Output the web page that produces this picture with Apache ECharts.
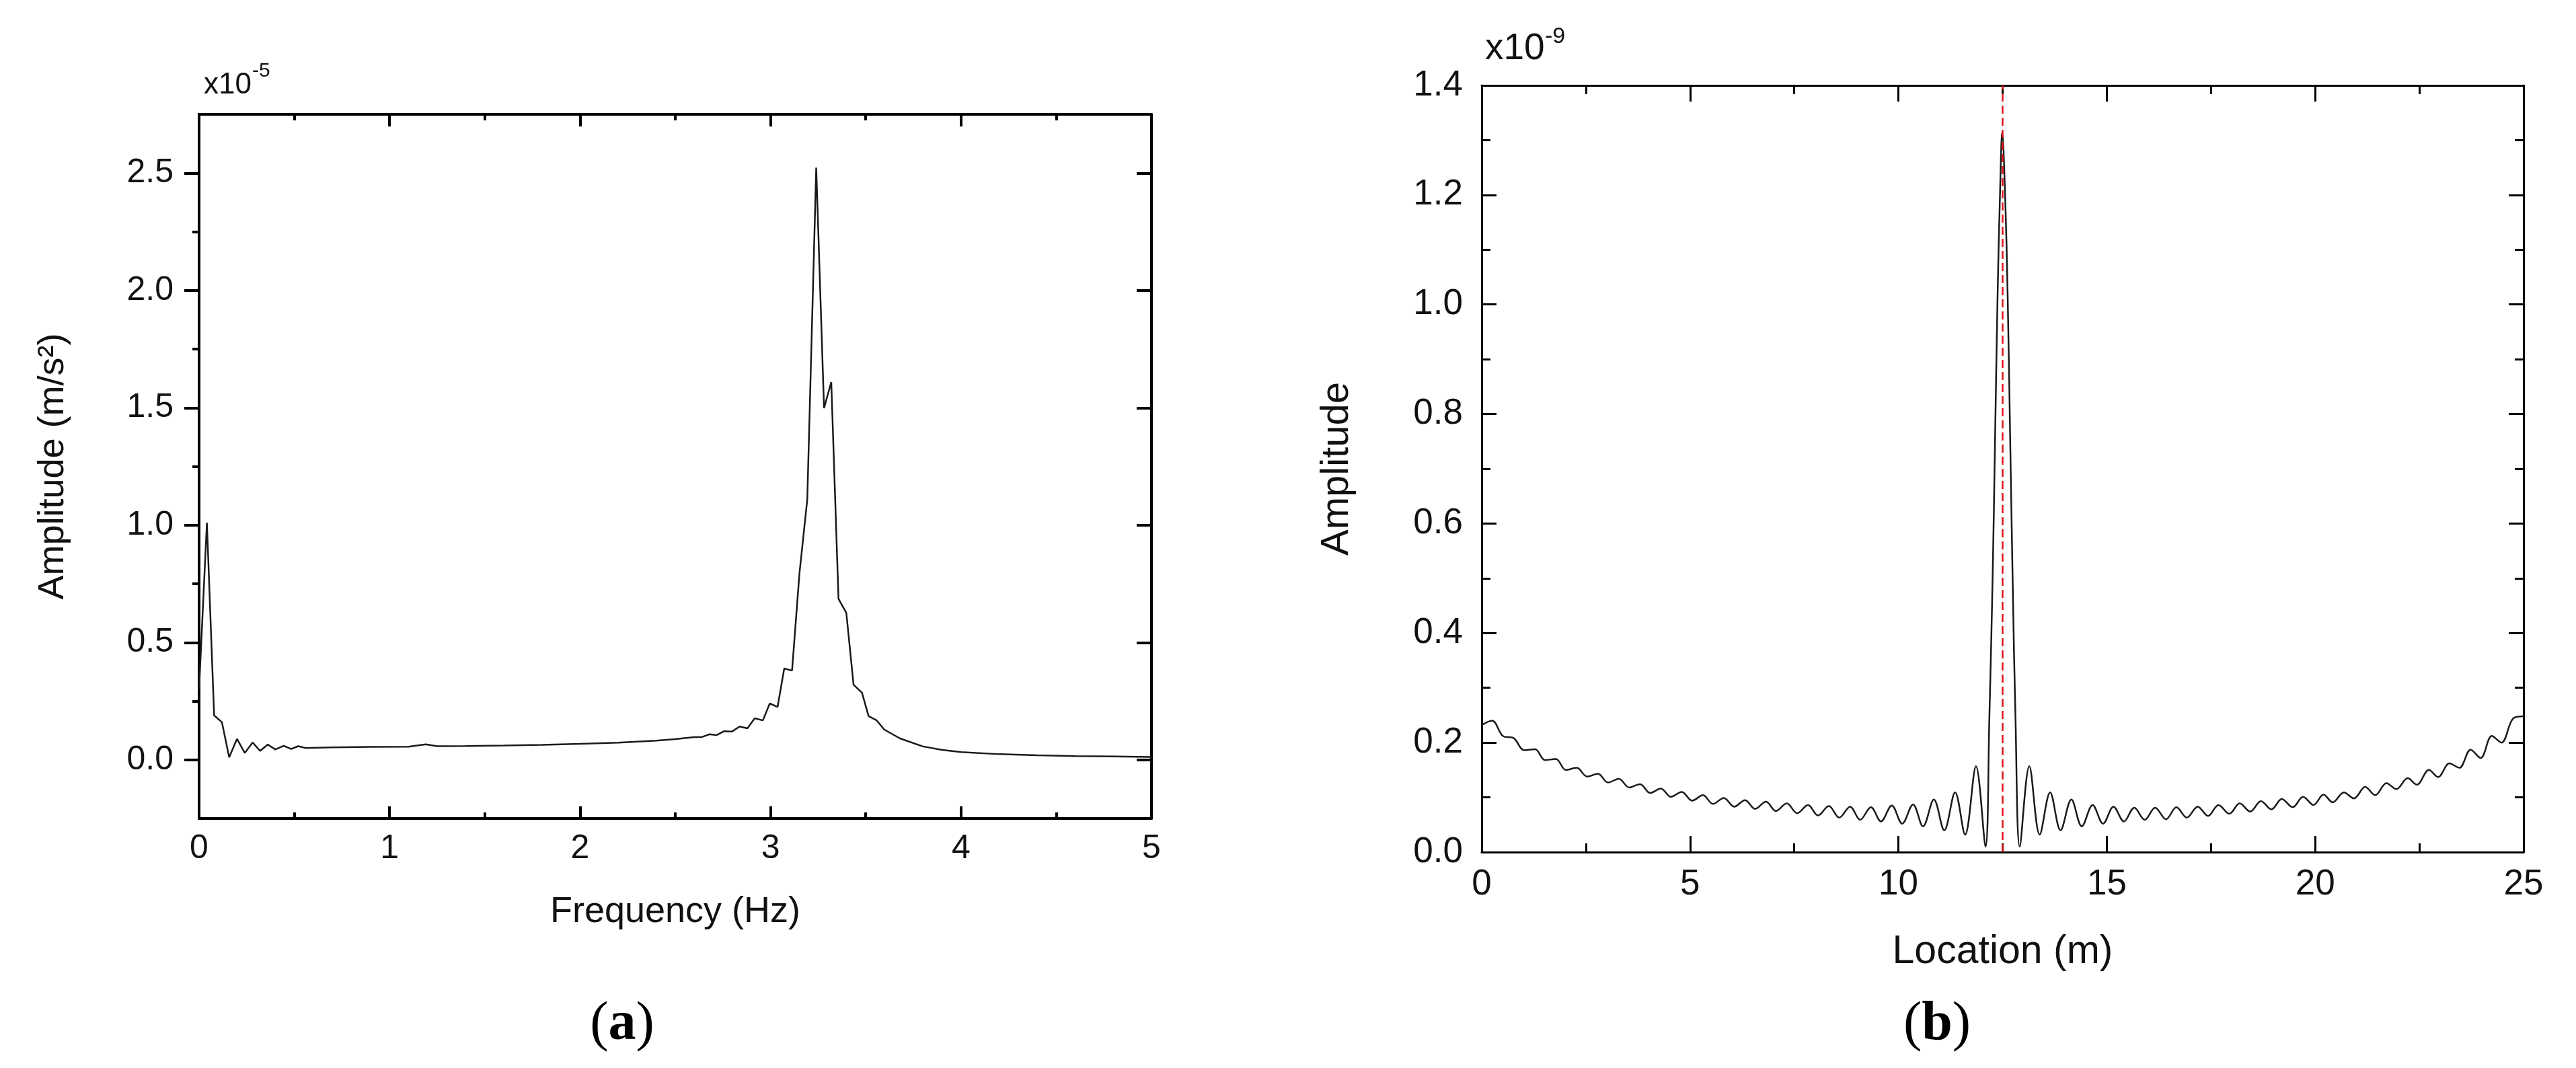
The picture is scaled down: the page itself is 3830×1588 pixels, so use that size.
<!DOCTYPE html>
<html>
<head>
<meta charset="utf-8">
<script src="https://cdn.jsdelivr.net/npm/echarts@6/dist/echarts.min.js"></script>
<style>
  html, body { margin: 0; padding: 0; background: #fff; }
  #chart { width: 3830px; height: 1588px; }
</style>
</head>
<body>
<div id="chart"></div>
<script>
// (a) spectrum, amplitude in units of 1e-5 m/s^2
const freqA = [0, 0.041, 0.079, 0.12, 0.158, 0.199, 0.24, 0.281, 0.32, 0.361, 0.40, 0.444, 0.483, 0.52, 0.56,
  0.7, 0.9, 1.1, 1.19, 1.25, 1.4, 1.6, 1.8, 2.0, 2.2, 2.4, 2.5, 2.6, 2.64, 2.68, 2.716, 2.757, 2.797, 2.838,
  2.879, 2.917, 2.96, 2.996, 3.037, 3.072, 3.113, 3.152, 3.193, 3.24, 3.281, 3.319, 3.357, 3.398, 3.436,
  3.48, 3.515, 3.556, 3.597, 3.68, 3.8, 3.9, 4.0, 4.2, 4.4, 4.6, 4.8, 5.0];
const ampA = [0.3, 1.01, 0.189, 0.16, 0.011, 0.089, 0.029, 0.074, 0.038, 0.065, 0.044, 0.06, 0.046, 0.058, 0.05,
  0.053, 0.055, 0.056, 0.066, 0.058, 0.059, 0.061, 0.064, 0.068, 0.073, 0.082, 0.088, 0.097, 0.097, 0.109, 0.105,
  0.122, 0.12, 0.142, 0.134, 0.177, 0.168, 0.24, 0.225, 0.389, 0.38, 0.795, 1.109, 2.523, 1.498, 1.609, 0.686,
  0.626, 0.32, 0.286, 0.186, 0.169, 0.129, 0.091, 0.057, 0.042, 0.033, 0.024, 0.019, 0.016, 0.014, 0.012];

// (b) location scan, amplitude in units of 1e-9
const locB = [0, 0.25, 0.51, 0.77, 1.02, 1.28, 1.52, 1.78, 2.02, 2.28, 2.53, 2.79, 3.03, 3.29, 3.54, 3.80,
  4.04, 4.30, 4.54, 4.80, 5.05, 5.31, 5.55, 5.81, 6.06, 6.32, 6.56, 6.82, 7.06, 7.32, 7.57, 7.83, 8.07, 8.33,
  8.58, 8.84, 9.08, 9.34, 9.58, 9.84, 10.09, 10.35, 10.59, 10.85, 11.10, 11.36, 11.60, 11.86, 12.09, 12.18,
  12.26, 12.32, 12.38, 12.44, 12.49, 12.56, 12.62, 12.68, 12.74, 12.81, 12.91, 13.14, 13.39, 13.64, 13.89,
  14.15, 14.40, 14.66, 14.91, 15.16, 15.41, 15.66, 15.91, 16.16, 16.42, 16.67, 16.92, 17.18, 17.43, 17.68,
  17.94, 18.19, 18.44, 18.70, 18.95, 19.20, 19.46, 19.71, 19.96, 20.20, 20.42, 20.69, 20.93, 21.20, 21.44,
  21.71, 21.95, 22.22, 22.44, 22.73, 22.95, 23.22, 23.46, 23.73, 23.97, 24.24, 24.47, 24.75, 25.0];
const ampB = [0.232, 0.240, 0.212, 0.208, 0.186, 0.188, 0.168, 0.170, 0.150, 0.154, 0.138, 0.143, 0.127, 0.134,
  0.118, 0.124, 0.108, 0.116, 0.101, 0.110, 0.094, 0.104, 0.088, 0.099, 0.083, 0.095, 0.079, 0.092, 0.075, 0.089,
  0.071, 0.086, 0.067, 0.084, 0.063, 0.083, 0.059, 0.082, 0.056, 0.085, 0.052, 0.087, 0.047, 0.096, 0.040, 0.109,
  0.032, 0.157, 0.010, 0.24, 0.50, 0.76, 1.02, 1.21, 1.315, 1.20, 1.02, 0.76, 0.50, 0.24, 0.010, 0.157, 0.032,
  0.109, 0.040, 0.096, 0.047, 0.086, 0.052, 0.083, 0.056, 0.081, 0.059, 0.081, 0.060, 0.082, 0.063, 0.083, 0.066,
  0.086, 0.070, 0.089, 0.074, 0.093, 0.078, 0.097, 0.082, 0.101, 0.086, 0.105, 0.091, 0.109, 0.098, 0.119, 0.104,
  0.126, 0.115, 0.135, 0.123, 0.150, 0.137, 0.162, 0.154, 0.187, 0.172, 0.212, 0.200, 0.244, 0.248];
const targetLoc = 12.5;

// (a) y axis runs -0.25..2.75, ticks only on the 0.5 grid
const yTicksA = [0, 0.5, 1.0, 1.5, 2.0, 2.5];
const yMinorA = [0.25, 0.75, 1.25, 1.75, 2.25];

const FONT = '"Liberation Sans", Arial, sans-serif';
const chart = echarts.init(document.getElementById('chart'));

function frameAxis(extra, w) {
  return Object.assign({
    type: 'value',
    splitLine: { show: false },
    axisLine: { show: true, onZero: false, lineStyle: { color: '#000', width: w } },
    axisLabel: { show: false },
    axisTick: { show: true, inside: true, lineStyle: { color: '#000', width: w } }
  }, extra);
}

const labelA = { color: '#111', fontFamily: FONT, fontSize: 50 };
const labelB = { color: '#111', fontFamily: FONT, fontSize: 53 };

const option = {
  animation: false,
  backgroundColor: '#fff',
  grid: [
    { left: 296, top: 170, width: 1416, height: 1047 },
    { left: 2203, top: 127, width: 1549, height: 1140 }
  ],
  xAxis: [
    frameAxis({
      gridIndex: 0, position: 'bottom', min: 0, max: 5, interval: 1,
      axisTick: { show: true, inside: true, length: 18, lineStyle: { color: '#000', width: 4 } },
      minorTick: { show: true, splitNumber: 2, length: 9, lineStyle: { color: '#000', width: 4 } },
      axisLabel: Object.assign({ show: true, margin: 20 }, labelA),
      name: 'Frequency (Hz)', nameLocation: 'middle', nameGap: 112,
      nameTextStyle: { color: '#111', fontFamily: FONT, fontSize: 54 }
    }, 4),
    frameAxis({
      gridIndex: 0, position: 'top', min: 0, max: 5, interval: 1,
      axisTick: { show: true, inside: true, length: 18, lineStyle: { color: '#000', width: 4 } },
      minorTick: { show: true, splitNumber: 2, length: 9, lineStyle: { color: '#000', width: 4 } }
    }, 4),
    frameAxis({
      gridIndex: 1, position: 'bottom', min: 0, max: 25, interval: 5,
      axisTick: { show: true, inside: true, length: 24, lineStyle: { color: '#000', width: 3 } },
      minorTick: { show: true, splitNumber: 2, length: 13, lineStyle: { color: '#000', width: 3 } },
      axisLabel: Object.assign({ show: true, margin: 22 }, labelB),
      name: 'Location (m)', nameLocation: 'middle', nameGap: 119,
      nameTextStyle: { color: '#111', fontFamily: FONT, fontSize: 59 }
    }, 3),
    frameAxis({
      gridIndex: 1, position: 'top', min: 0, max: 25, interval: 5,
      axisTick: { show: true, inside: true, length: 24, lineStyle: { color: '#000', width: 3 } },
      minorTick: { show: true, splitNumber: 2, length: 13, lineStyle: { color: '#000', width: 3 } }
    }, 3)
  ],
  yAxis: [
    frameAxis({
      gridIndex: 0, position: 'left', min: -0.25, max: 2.75, interval: 0.25,
      axisTick: { show: true, inside: false, length: 22, customValues: yTicksA, lineStyle: { color: '#000', width: 4 } },
      axisLabel: Object.assign({ show: true, margin: 38, customValues: yTicksA, formatter: v => v.toFixed(1) }, labelA),
      name: 'Amplitude (m/s²)', nameLocation: 'middle', nameGap: 190,
      nameTextStyle: { color: '#111', fontFamily: FONT, fontSize: 54 }
    }, 4),
    frameAxis({
      gridIndex: 0, position: 'right', min: -0.25, max: 2.75, interval: 0.25,
      axisTick: { show: true, inside: true, length: 22, customValues: yTicksA, lineStyle: { color: '#000', width: 4 } }
    }, 4),
    frameAxis({
      gridIndex: 0, position: 'left', min: -0.25, max: 2.75, interval: 0.25,
      axisLine: { show: false },
      axisTick: { show: true, inside: false, length: 10, customValues: yMinorA, lineStyle: { color: '#000', width: 4 } }
    }, 4),
    frameAxis({
      gridIndex: 0, position: 'right', min: -0.25, max: 2.75, interval: 0.25,
      axisLine: { show: false },
      axisTick: { show: true, inside: true, length: 10, customValues: yMinorA, lineStyle: { color: '#000', width: 4 } }
    }, 4),
    frameAxis({
      gridIndex: 1, position: 'left', min: 0, max: 1.4, interval: 0.2,
      axisTick: { show: true, inside: true, length: 22, lineStyle: { color: '#000', width: 3 } },
      minorTick: { show: true, splitNumber: 2, length: 13, lineStyle: { color: '#000', width: 3 } },
      axisLabel: Object.assign({ show: true, margin: 28, formatter: v => v.toFixed(1) }, labelB),
      name: 'Amplitude', nameLocation: 'middle', nameGap: 186,
      nameTextStyle: { color: '#111', fontFamily: FONT, fontSize: 58 }
    }, 3),
    frameAxis({
      gridIndex: 1, position: 'right', min: 0, max: 1.4, interval: 0.2,
      axisTick: { show: true, inside: true, length: 22, lineStyle: { color: '#000', width: 3 } },
      minorTick: { show: true, splitNumber: 2, length: 13, lineStyle: { color: '#000', width: 3 } }
    }, 3)
  ],
  series: [
    {
      type: 'line', xAxisIndex: 0, yAxisIndex: 0,
      data: freqA.map((f, i) => [f, ampA[i]]),
      showSymbol: false, symbol: 'none',
      lineStyle: { color: '#1a1a1a', width: 2.5 }
    },
    {
      type: 'line', xAxisIndex: 2, yAxisIndex: 4,
      data: locB.map((x, i) => [x, ampB[i]]),
      showSymbol: false, symbol: 'none', smooth: 0.35,
      lineStyle: { color: '#1a1a1a', width: 2.5 },
      markLine: {
        silent: true, symbol: ['none', 'none'], label: { show: false },
        lineStyle: { color: '#e3121b', type: [12, 6], width: 2.5 },
        data: [{ xAxis: targetLoc }]
      }
    }
  ],
  graphic: [
    { type: 'text', x: 303, y: 127, style: { text: 'x10', font: '44px ' + FONT, fill: '#111', textVerticalAlign: 'middle', verticalAlign: 'middle' } },
    { type: 'text', x: 375, y: 106, style: { text: '-5', font: '30px ' + FONT, fill: '#111', textVerticalAlign: 'middle', verticalAlign: 'middle' } },
    { type: 'text', x: 2208, y: 73, style: { text: 'x10', font: '55px ' + FONT, fill: '#111', textVerticalAlign: 'middle', verticalAlign: 'middle' } },
    { type: 'text', x: 2297, y: 55, style: { text: '-9', font: '34px ' + FONT, fill: '#111', textVerticalAlign: 'middle', verticalAlign: 'middle' } },
    {
      type: 'text', x: 925, y: 1524,
      style: {
        text: '{p|(}{l|a}{p|)}', textAlign: 'center', align: 'center', textVerticalAlign: 'middle', verticalAlign: 'middle',
        rich: {
          p: { fontFamily: '"Liberation Serif", serif', fontSize: 82, fill: '#000', color: '#000' },
          l: { fontFamily: '"Liberation Serif", serif', fontSize: 82, fontWeight: 'bold', fill: '#000', color: '#000' }
        }
      }
    },
    {
      type: 'text', x: 2880, y: 1524,
      style: {
        text: '{p|(}{l|b}{p|)}', textAlign: 'center', align: 'center', textVerticalAlign: 'middle', verticalAlign: 'middle',
        rich: {
          p: { fontFamily: '"Liberation Serif", serif', fontSize: 82, fill: '#000', color: '#000' },
          l: { fontFamily: '"Liberation Serif", serif', fontSize: 82, fontWeight: 'bold', fill: '#000', color: '#000' }
        }
      }
    }
  ]
};

chart.setOption(option);
</script>
</body>
</html>
